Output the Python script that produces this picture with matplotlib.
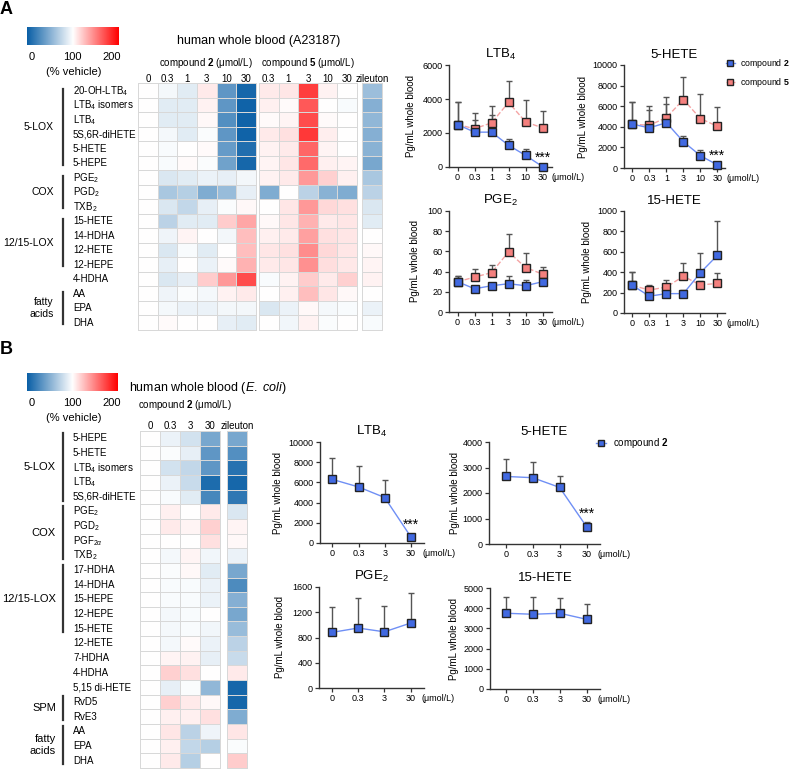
import numpy as np
import matplotlib
matplotlib.use('Agg')
import matplotlib.pyplot as plt
from matplotlib.colors import LinearSegmentedColormap
from matplotlib.transforms import blended_transform_factory
from matplotlib.lines import Line2D

plt.rcParams['font.family'] = ['Liberation Sans', 'DejaVu Sans']
plt.rcParams['mathtext.fontset'] = 'custom'
plt.rcParams['mathtext.rm'] = 'Liberation Sans'
plt.rcParams['mathtext.it'] = 'Liberation Sans:italic'
plt.rcParams['mathtext.bf'] = 'Liberation Sans:bold'

# ---------------- data ----------------
# Panel A heatmap (% vehicle)
rows_A = ['20-OH-LTB$_4$', 'LTB$_4$ isomers', 'LTB$_4$', '5S,6R-diHETE', '5-HETE', '5-HEPE',
          'PGE$_2$', 'PGD$_2$', 'TXB$_2$', '15-HETE', '14-HDHA', '12-HETE', '12-HEPE',
          '4-HDHA', 'AA', 'EPA', 'DHA']
cols_A_c2 = ['0', '0.3', '1', '3', '10', '30']
cols_A_c5 = ['0.3', '1', '3', '10', '30']
heat_A_c2 = [
    [100, 96, 88, 108, 35, 5],
    [100, 88, 88, 105, 35, 3],
    [100, 88, 88, 103, 30, 3],
    [100, 96, 88, 98, 35, 3],
    [100, 97, 100, 102, 38, 10],
    [100, 97, 102, 98, 42, 5],
    [100, 85, 88, 92, 90, 95],
    [100, 65, 70, 48, 58, 90],
    [100, 85, 75, 90, 98, 103],
    [100, 72, 88, 88, 120, 135],
    [100, 93, 104, 100, 95, 125],
    [100, 85, 97, 88, 100, 125],
    [100, 90, 100, 92, 102, 130],
    [100, 85, 90, 120, 140, 170],
    [100, 93, 98, 96, 105, 108],
    [100, 96, 92, 92, 95, 95],
    [100, 102, 100, 100, 90, 88],
]
heat_A_c5 = [
    [108, 110, 175, 105, 100],
    [106, 102, 165, 100, 97],
    [102, 104, 170, 102, 100],
    [108, 112, 178, 107, 100],
    [105, 108, 160, 104, 100],
    [104, 110, 158, 106, 104],
    [105, 108, 140, 118, 106],
    [48, 100, 72, 52, 48],
    [100, 110, 140, 115, 112],
    [103, 110, 130, 108, 110],
    [106, 108, 137, 112, 110],
    [110, 112, 145, 115, 110],
    [108, 110, 143, 113, 109],
    [97, 105, 120, 108, 118],
    [100, 106, 125, 110, 103],
    [85, 92, 103, 96, 97],
    [100, 94, 105, 98, 100],
]
heat_A_zil = [60, 50, 55, 50, 52, 45, 65, 72, 85, 88, 100, 103, 104, 105, 100, 92, 97]

# Panel B heatmap (% vehicle)
rows_B = ['5-HEPE', '5-HETE', 'LTB$_4$ isomers', 'LTB$_4$', '5S,6R-diHETE', 'PGE$_2$', 'PGD$_2$',
          'PGF$_{2\\alpha}$', 'TXB$_2$', '17-HDHA', '14-HDHA', '15-HEPE', '12-HEPE', '15-HETE',
          '12-HETE', '7-HDHA', '4-HDHA', '5,15 di-HETE', 'RvD5', 'RvE3', 'AA', 'EPA', 'DHA']
cols_B = ['0', '0.3', '3', '30']
heat_B_c2 = [
    [100, 92, 82, 45],
    [100, 98, 90, 35],
    [100, 82, 75, 35],
    [100, 92, 78, 8],
    [100, 97, 88, 25],
    [100, 106, 100, 108],
    [100, 108, 104, 118],
    [100, 100, 100, 112],
    [100, 96, 104, 94],
    [100, 98, 103, 88],
    [100, 97, 97, 92],
    [100, 97, 97, 92],
    [100, 96, 97, 100],
    [100, 96, 97, 94],
    [100, 96, 102, 92],
    [100, 104, 105, 90],
    [100, 118, 112, 100],
    [100, 90, 98, 55],
    [100, 118, 108, 103],
    [100, 106, 106, 112],
    [100, 110, 72, 93],
    [100, 106, 75, 70],
    [100, 108, 70, 100],
]
heat_B_zil = [45, 30, 12, 5, 15, 85, 104, 103, 92, 45, 28, 50, 45, 58, 72, 78, 108, 5, 5, 48, 110, 98, 120]

# Panel A line charts
dose_A = ['0', '0.3', '1', '3', '10', '30']
ltb4_A_c2 = [2500, 2050, 2050, 1280, 680, 20]
ltb4_A_c2_err = [1350, 700, 1000, 370, 350, 0]
ltb4_A_c5 = [2500, 2250, 2600, 3800, 2650, 2300]
ltb4_A_c5_err = [1350, 900, 1000, 1250, 1300, 1000]
hete5_A_c2 = [4250, 3900, 4400, 2550, 1200, 300]
hete5_A_c2_err = [2150, 1750, 1850, 550, 500, 0]
hete5_A_c5 = [4250, 4150, 4900, 6650, 4800, 4050]
hete5_A_c5_err = [2150, 1900, 1950, 2150, 2400, 1850]
pge2_A_c2 = [30, 23, 26, 28, 26, 30]
pge2_A_c2_err = [6, 3, 3, 8, 6, 3]
pge2_A_c5 = [30, 34.5, 39, 59.5, 44, 37.5]
pge2_A_c5_err = [6, 8, 8, 18, 14, 7.5]
hete15_A_c2 = [270, 165, 190, 190, 395, 565]
hete15_A_c2_err = [135, 40, 40, 35, 195, 335]
hete15_A_c5 = [270, 225, 255, 360, 275, 290]
hete15_A_c5_err = [135, 50, 65, 135, 40, 100]

# Panel B line charts
dose_B = ['0', '0.3', '3', '30']
ltb4_B = [6300, 5550, 4500, 600]
ltb4_B_err = [2150, 2100, 1700, 0]
hete5_B = [2650, 2600, 2220, 680]
hete5_B_err = [700, 600, 430, 170]
pge2_B = [880, 950, 890, 1030]
pge2_B_err = [410, 480, 410, 480]
hete15_B = [3750, 3700, 3750, 3450]
hete15_B_err = [800, 860, 750, 770]

# ---------------- figure ----------------
W, H = 789, 770
fig = plt.figure(figsize=(W / 100, H / 100), dpi=100)


def rect(l, t, r, b):
    return [l / W, 1 - b / H, (r - l) / W, (b - t) / H]


def fx(px):
    return px / W


def fy(py):
    return 1 - py / H


cmap = LinearSegmentedColormap.from_list('bwr_c', ['#0a5fa6', '#ffffff', '#ff0000'])

BLUE_F, BLUE_L = '#4169e1', '#6f8ff5'
RED_F, RED_L = '#f4807e', '#f5a3a3'
EDGE = '#222222'


def heat(l, t, r, b, data):
    ax = fig.add_axes(rect(l, t, r, b))
    data = np.asarray(data, float)
    if data.ndim == 1:
        data = data[:, None]
    m = ax.pcolormesh(data, cmap=cmap, vmin=0, vmax=200, edgecolors='#d8d8d8', linewidth=0.5)
    m.set_clip_on(False)
    ax.set_xlim(0, data.shape[1])
    ax.set_ylim(data.shape[0], 0)
    ax.axis('off')
    return ax


def col_labels(ax, labels, fs=7):
    for j, s in enumerate(labels):
        ax.text(j + 0.5, -0.12, s, ha='center', va='baseline', fontsize=fs)


def row_labels(ax, labels, xpx, fs=7):
    tr = blended_transform_factory(fig.transFigure, ax.transData)
    for i, s in enumerate(labels):
        ax.text(fx(xpx), i + 0.5, s, ha='left', va='center', fontsize=fs, transform=tr)


def groups(ax, grp, xline, xtext, s_off, e_off, fs=7.5):
    tr = blended_transform_factory(fig.transFigure, ax.transData)
    for name, s, e in grp:
        y0, y1 = s + s_off, e + e_off
        ax.add_line(Line2D([fx(xline), fx(xline)], [y0, y1], transform=tr, color='#333333',
                           lw=1.6, clip_on=False))
        ax.text(fx(xtext), (y0 + y1) / 2, name, ha='right', va='center', ma='right',
                fontsize=fs, transform=tr, linespacing=1.15)


def colorbar(l, t, r, b, lab_y, vlab_y):
    cax = fig.add_axes(rect(l, t, r, b))
    cax.imshow(np.linspace(0, 200, 256)[None, :], aspect='auto', cmap=cmap, vmin=0, vmax=200,
               extent=[0, 200, 0, 1])
    cax.axis('off')
    for v, xp in zip(['0', '100', '200'], [32, 72, 112]):
        fig.text(fx(xp), fy(lab_y), v, ha='center', va='center', fontsize=8)
    fig.text(fx(74), fy(vlab_y), '(% vehicle)', ha='center', va='center', fontsize=8)


# ---------- Panel A ----------
fig.text(fx(6), fy(10), 'A', fontsize=13, fontweight='bold', ha='center', va='center')
colorbar(27, 27, 119, 45, 57, 72)
fig.text(fx(259), fy(44), 'human whole blood (A23187)', ha='center', va='baseline', fontsize=9)
fig.text(fx(206), fy(66.5), 'compound $\\mathbf{2}$ (μmol/L)', ha='center', va='baseline', fontsize=7)
fig.text(fx(308), fy(66.5), 'compound $\\mathbf{5}$ (μmol/L)', ha='center', va='baseline', fontsize=7)

axA1 = heat(138, 83.4, 256, 330, heat_A_c2)
axA2 = heat(259, 83.4, 357, 330, heat_A_c5)
axA3 = heat(362, 83.4, 382, 330, heat_A_zil)
col_labels(axA1, cols_A_c2)
col_labels(axA2, cols_A_c5)
col_labels(axA3, ['zileuton'])
row_labels(axA1, rows_A, 73)
groups(axA1, [('5-LOX', 0, 5), ('COX', 6, 8), ('12/15-LOX', 9, 12), ('fatty\nacids', 14, 16)],
       63, 54, 0.38, 0.6)


def linechart(rp, xlabels, series, ytop, ystep, title, ylab_px, xlim, stars=None,
              star_off=6, unit_off=6.5):
    l, t, r, b = rp
    ax = fig.add_axes(rect(l, t, r, b))
    x = np.arange(len(xlabels))
    for vals, errs, fc, lc, ls in series:
        vals = np.asarray(vals, float)
        errs = np.asarray(errs, float)
        ax.errorbar(x, vals, yerr=[np.zeros_like(errs), errs], fmt='none', ecolor='#555555',
                    elinewidth=1, capsize=2.3, capthick=1, zorder=2, clip_on=False)
        ax.plot(x, vals, color=lc, ls=ls, lw=1, marker='s', ms=6, mfc=fc, mec=EDGE, mew=1,
                zorder=3, clip_on=False)
    if stars is not None:
        sx, sv = stars
        ax.annotate('***', xy=(sx, sv), xytext=(0, star_off), textcoords='offset points',
                    ha='center', va='center', fontsize=10)
    ax.set_xlim(*xlim)
    ax.set_ylim(0, ytop)
    ax.set_yticks(np.arange(0, ytop + ystep / 2, ystep))
    ax.set_xticks(x)
    ax.set_xticklabels(xlabels)
    for sp in ['top', 'right']:
        ax.spines[sp].set_visible(False)
    for sp in ['left', 'bottom']:
        ax.spines[sp].set_linewidth(1)
        ax.spines[sp].set_color('#333333')
    ax.tick_params(length=3, width=0.9, labelsize=6.5, pad=1.5, color='#333333')
    ax.set_title(title, fontsize=9.5, pad=5)
    ax.set_ylabel('Pg/mL whole blood', fontsize=7)
    ax.yaxis.set_label_coords((ylab_px - l) / (r - l), 0.5)
    ax.annotate('(μmol/L)', xy=(len(xlabels) - 1, 0), xycoords=('data', 'axes fraction'),
                xytext=(unit_off, -4.5), textcoords='offset points', ha='left', va='top',
                fontsize=6.5)
    return ax


linechart((449, 65, 552, 167), dose_A,
          [(ltb4_A_c5, ltb4_A_c5_err, RED_F, RED_L, '--'),
           (ltb4_A_c2, ltb4_A_c2_err, BLUE_F, BLUE_L, '-')],
          6000, 2000, 'LTB$_4$', 416, (-0.5, 5.55), stars=(5, ltb4_A_c2[5]), star_off=6.5)
linechart((624, 65, 725, 168), dose_A,
          [(hete5_A_c5, hete5_A_c5_err, RED_F, RED_L, '--'),
           (hete5_A_c2, hete5_A_c2_err, BLUE_F, BLUE_L, '-')],
          10000, 2000, '5-HETE', 588, (-0.5, 5.45), stars=(5, hete5_A_c2[5]), star_off=6.5)
linechart((449, 211, 552, 312), dose_A,
          [(pge2_A_c5, pge2_A_c5_err, RED_F, RED_L, '--'),
           (pge2_A_c2, pge2_A_c2_err, BLUE_F, BLUE_L, '-')],
          100, 20, 'PGE$_2$', 420, (-0.5, 5.55))
linechart((624, 211, 725, 313), dose_A,
          [(hete15_A_c5, hete15_A_c5_err, RED_F, RED_L, '--'),
           (hete15_A_c2, hete15_A_c2_err, BLUE_F, BLUE_L, '-')],
          1000, 200, '15-HETE', 592, (-0.5, 5.45))

hA = [Line2D([], [], color=BLUE_L, ls='-', lw=1, marker='s', ms=5, mfc=BLUE_F, mec=EDGE, mew=1),
      Line2D([], [], color=RED_L, ls='--', lw=1, marker='s', ms=5, mfc=RED_F, mec=EDGE, mew=1)]
fig.legend(hA, ['compound $\\mathbf{2}$', 'compound $\\mathbf{5}$'], loc='center left',
           bbox_to_anchor=(fx(726), fy(73)), frameon=False, fontsize=6.3, handlelength=1.0,
           handletextpad=0.6, labelspacing=0.65, borderpad=0, borderaxespad=0)

# ---------- Panel B ----------
fig.text(fx(6), fy(349), 'B', fontsize=13, fontweight='bold', ha='center', va='center')
colorbar(27, 373, 118, 391, 403, 418)
fig.text(fx(208), fy(391), 'human whole blood ($\\mathit{E.\\ coli}$)', ha='center', va='baseline',
         fontsize=9)
fig.text(fx(138), fy(408.5), 'compound $\\mathbf{2}$ (μmol/L)', ha='left', va='baseline', fontsize=7)

axB1 = heat(140, 431, 220, 768, heat_B_c2)
axB2 = heat(227, 431, 247, 768, heat_B_zil)
col_labels(axB1, cols_B)
col_labels(axB2, ['zileuton'])
row_labels(axB1, rows_B, 73)
groups(axB1, [('5-LOX', 0, 4), ('COX', 5, 8), ('12/15-LOX', 9, 13), ('SPM', 18, 19),
              ('fatty\nacids', 20, 22)], 63, 56, 0.12, 0.75, fs=8)

linechart((320, 442, 424, 543), dose_B, [(ltb4_B, ltb4_B_err, BLUE_F, BLUE_L, '-')],
          10000, 2000, 'LTB$_4$', 283, (-0.47, 3.5), stars=(3, ltb4_B[3]), star_off=8.5, unit_off=8)
linechart((489, 442, 600, 544), dose_B, [(hete5_B, hete5_B_err, BLUE_F, BLUE_L, '-')],
          4000, 1000, '5-HETE', 460, (-0.62, 3.5), stars=(3, hete5_B[3]), star_off=9, unit_off=8)
linechart((319, 587, 424, 688), dose_B, [(pge2_B, pge2_B_err, BLUE_F, BLUE_L, '-')],
          1600, 400, 'PGE$_2$', 285, (-0.48, 3.5), unit_off=8)
linechart((490, 588, 600, 689), dose_B, [(hete15_B, hete15_B_err, BLUE_F, BLUE_L, '-')],
          5000, 1000, '15-HETE', 459, (-0.6, 3.5), unit_off=8)

hB = [Line2D([], [], color=BLUE_L, ls='-', lw=1, marker='s', ms=5, mfc=BLUE_F, mec=EDGE, mew=1)]
fig.legend(hB, ['compound $\\mathbf{2}$'], loc='center left',
           bbox_to_anchor=(fx(596), fy(443)), frameon=False, fontsize=7, handlelength=1.0,
           handletextpad=0.7, borderpad=0, borderaxespad=0)

fig.savefig('out.png', dpi=100)
